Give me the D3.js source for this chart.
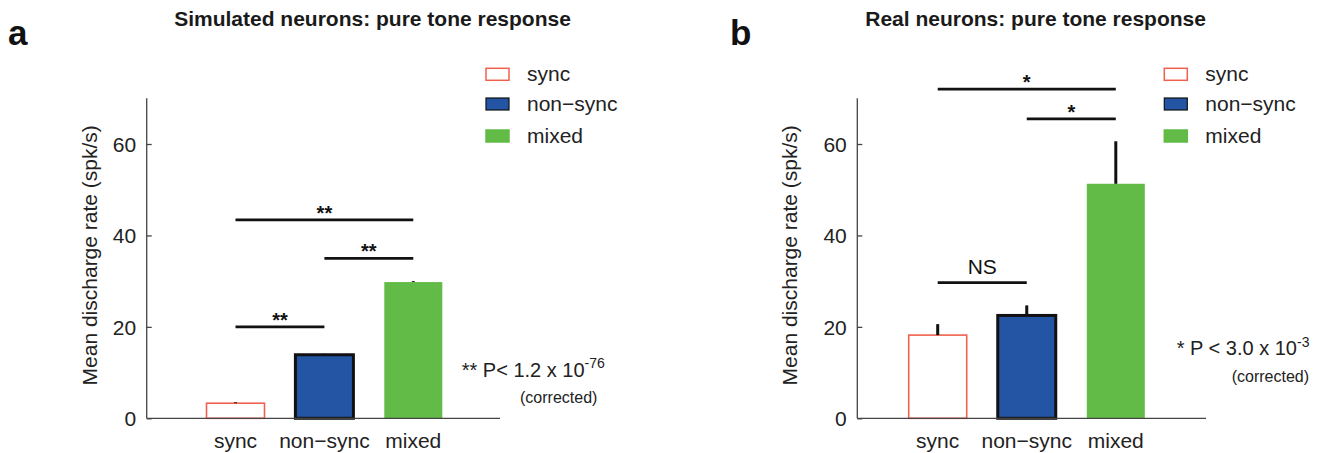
<!DOCTYPE html>
<html>
<head>
<meta charset="utf-8">
<script src="https://cdn.jsdelivr.net/npm/d3@7"></script>
<style>
  html, body { margin: 0; padding: 0; background: #fff; }
  svg { display: block; font-family: "Liberation Sans", Arial, Helvetica, sans-serif; }
</style>
</head>
<body>
<svg id="chart" width="1319" height="453"></svg>
<script>
// ---------------- data ----------------
const categories = ["sync", "non\u2212sync", "mixed"];
const simValues  = [3.3, 13.9, 29.8];
const simErrors  = [0.2, 0.2, 0.2];
const realValues = [18.2, 22.5, 51.3];
const realErrors = [2.4, 2.2, 9.3];
const yTicks = [0, 20, 40, 60];
const simSigFrom  = [0, 1, 0];
const simSigTo    = [1, 2, 2];
const simSigY     = [20, 35, 43.4];
const simSigLabel = ["**", "**", "**"];
const realSigFrom  = [0, 1, 0];
const realSigTo    = [1, 2, 2];
const realSigY     = [29.7, 65.5, 72];
const realSigLabel = ["NS", "*", "*"];
const titles = ["Simulated neurons: pure tone response", "Real neurons: pure tone response"];
const panelLetters = ["a", "b"];
const yLabel = "Mean discharge rate (spk/s)";
const pMain = ["** P< 1.2 x 10", "* P < 3.0 x 10"];
const pExp  = ["-76", "-3"];
const pNote = "(corrected)";

// ---------------- styles ----------------
const colors = { fill: ["#ffffff", "#2455a4", "#63bb47"], stroke: ["#f0604e", "#111111", "#63bb47"] };
const strokeW = [1.6, 3, 0];

const svg = d3.select("#chart");

const panels = [
  { values: simValues, errors: simErrors, sigFrom: simSigFrom, sigTo: simSigTo, sigY: simSigY, sigLabel: simSigLabel,
    axisX: 146.7, axisRight: 500, c0: 235.5, c1: 413.3, ylabX: 96.5, titleX: 372.5, letterX: 8,
    legX: 486, pX: 461.7, pY: 376.7, noteX: 520, noteY: 402.5 },
  { values: realValues, errors: realErrors, sigFrom: realSigFrom, sigTo: realSigTo, sigY: realSigY, sigLabel: realSigLabel,
    axisX: 857.3, axisRight: 1206, c0: 937.7, c1: 1115.8, ylabX: 797, titleX: 1035.6, letterX: 730,
    legX: 1164.3, pX: 1176.7, pY: 355, noteX: 1231.7, noteY: 381.5 }
];

const y = d3.scaleLinear().domain([0, 70]).range([418.3, 98.3]);
const barW = 58;

panels.forEach((p, pi) => {
  const g = svg.append("g");
  const x = d3.scalePoint().domain(categories).range([p.c0, p.c1]);

  // title & letter
  g.append("text").attr("x", p.titleX).attr("y", 26).attr("text-anchor", "middle")
    .attr("font-size", 21).attr("font-weight", "bold").attr("fill", "#1a1a1a").text(titles[pi]);
  g.append("text").attr("x", p.letterX).attr("y", 45)
    .attr("font-size", 35).attr("font-weight", "bold").attr("fill", "#111").text(panelLetters[pi]);

  // bars
  g.selectAll("rect.bar").data(p.values).enter().append("rect")
    .attr("class", "bar")
    .attr("x", (d, i) => x(categories[i]) - barW / 2)
    .attr("width", barW)
    .attr("y", d => y(d))
    .attr("height", d => y(0) - y(d))
    .attr("fill", (d, i) => colors.fill[i])
    .attr("stroke", (d, i) => colors.stroke[i])
    .attr("stroke-width", (d, i) => strokeW[i]);

  // error bars (upward only)
  g.selectAll("line.err").data(p.values).enter().append("line")
    .attr("class", "err")
    .attr("x1", (d, i) => x(categories[i])).attr("x2", (d, i) => x(categories[i]))
    .attr("y1", d => y(d)).attr("y2", (d, i) => y(d + p.errors[i]))
    .attr("stroke", "#111").attr("stroke-width", 3);

  // y axis
  const yAxis = d3.axisRight(y).tickValues(yTicks).tickSize(5).tickFormat(d3.format("d"));
  const ag = g.append("g").attr("transform", `translate(${p.axisX},0)`).call(yAxis);
  ag.select(".domain").attr("stroke", "#444").attr("stroke-width", 1.3).attr("d", `M0,${y(70)}V${y(0)}`);
  ag.selectAll(".tick line").attr("stroke", "#444").attr("stroke-width", 1.3);
  ag.selectAll(".tick text").attr("x", -10.5).attr("text-anchor", "end").attr("dy", "0.35em")
    .attr("font-size", 21).attr("font-family", "Liberation Sans, Arial, sans-serif").attr("fill", "#222");

  // x baseline
  g.append("line").attr("x1", p.axisX).attr("x2", p.axisRight).attr("y1", y(0)).attr("y2", y(0))
    .attr("stroke", "#444").attr("stroke-width", 1.3);

  // x labels
  g.selectAll("text.xl").data(categories).enter().append("text")
    .attr("class", "xl").attr("x", d => x(d)).attr("y", 448).attr("text-anchor", "middle")
    .attr("font-size", 21).attr("fill", "#222").text(d => d);

  // y label
  g.append("text").attr("transform", `translate(${p.ylabX},${(y(0) + y(70)) / 2 - 3}) rotate(-90)`)
    .attr("text-anchor", "middle").attr("font-size", 21).attr("fill", "#222").text(yLabel);

  // significance lines
  p.sigY.forEach((sv, k) => {
    const xa = x(categories[p.sigFrom[k]]), xb = x(categories[p.sigTo[k]]);
    g.append("line").attr("x1", xa).attr("x2", xb).attr("y1", y(sv)).attr("y2", y(sv))
      .attr("stroke", "#111").attr("stroke-width", 2.8);
    const isNS = p.sigLabel[k] === "NS";
    g.append("text").attr("x", (xa + xb) / 2).attr("y", y(sv) - (isNS ? 9 : 0))
      .attr("text-anchor", "middle").attr("font-size", isNS ? 21 : 20)
      .attr("font-weight", isNS ? "normal" : "bold").attr("fill", "#111").text(p.sigLabel[k]);
  });

  // legend
  const legTops = [68.3, 98, 130];
  categories.forEach((c, i) => {
    g.append("rect").attr("x", p.legX).attr("y", legTops[i]).attr("width", 23).attr("height", 12)
      .attr("fill", colors.fill[i]).attr("stroke", colors.stroke[i]).attr("stroke-width", i === 1 ? 1.2 : 1.5);
    g.append("text").attr("x", p.legX + 41).attr("y", legTops[i] + 6 + 6.5)
      .attr("font-size", 21).attr("fill", "#222").text(c);
  });

  // p-value annotation
  const t = g.append("text").attr("x", p.pX).attr("y", p.pY).attr("font-size", 20).attr("fill", "#222");
  t.append("tspan").text(pMain[pi]);
  t.append("tspan").attr("dy", -8.5).attr("font-size", 14).text(pExp[pi]);
  g.append("text").attr("x", p.noteX).attr("y", p.noteY).attr("font-size", 16).attr("fill", "#222").text(pNote);
});
</script>
</body>
</html>
